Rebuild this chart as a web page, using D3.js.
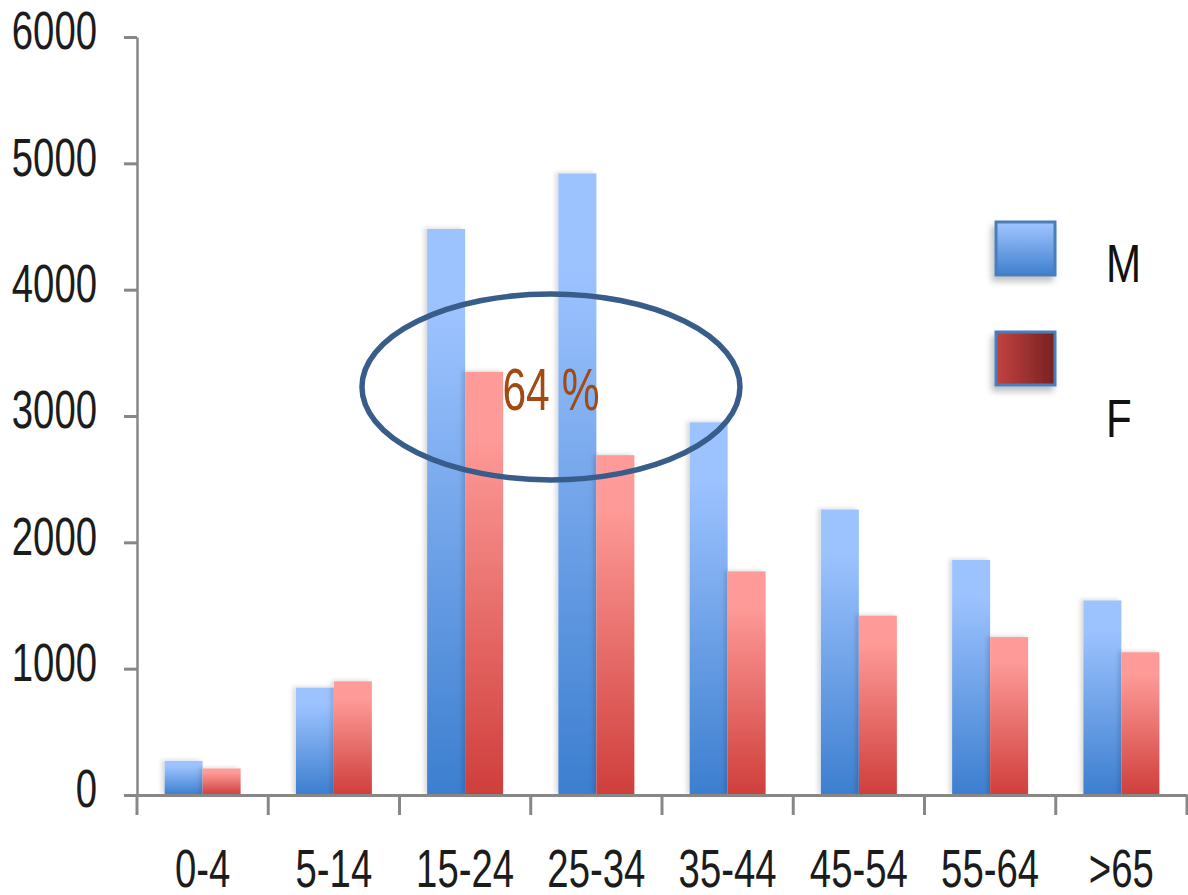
<!DOCTYPE html>
<html>
<head>
<meta charset="utf-8">
<script src="https://cdn.jsdelivr.net/npm/d3@7"></script>
<style>
  html, body { margin: 0; padding: 0; background: #fff; }
  svg { display: block; }
  text { font-family: "Liberation Sans", Arial, sans-serif; fill: #1c1c1c; }
</style>
</head>
<body>
<svg id="chart" width="1188" height="895"></svg>
<script>
// Cases by age group and sex
const categories = ["0-4", "5-14", "15-24", "25-34", "35-44", "45-54", "55-64", ">65"];
const male   = [270, 850, 4480, 4920, 2950, 2260, 1860, 1540];
const female = [210, 900, 3350, 2690, 1770, 1420, 1250, 1130];
const yTicks = [0, 1000, 2000, 3000, 4000, 5000, 6000];
const seriesNames = ["M", "F"];
const note = "64 %";

const svg = d3.select("#chart");
const squeeze = 0.71; // narrow the glyphs horizontally

const x = d3.scaleBand().domain(categories).range([137, 1187])
  .paddingInner(0.421).paddingOuter(0.2105);
const xs = d3.scaleBand().domain(seriesNames).range([0, x.bandwidth()]);
const y = d3.scaleLinear().domain([0, 6000]).range([795, 37]);

const defs = svg.append("defs");
const vGrad = (id, top, bottom, from) => {
  const g = defs.append("linearGradient").attr("id", id)
    .attr("x1", 0).attr("y1", 0).attr("x2", 0).attr("y2", 1);
  g.append("stop").attr("offset", from).attr("stop-color", top);
  g.append("stop").attr("offset", 1).attr("stop-color", bottom);
};
vGrad("gM", "#9dc3ff", "#3c7ecf", 0.15);
vGrad("gF", "#fe9b98", "#cf3e3b", 0.15);
vGrad("gMleg", "#a2c6ff", "#3f7fcf", 0);
const hg = defs.append("linearGradient").attr("id", "gFleg")
  .attr("x1", 0).attr("y1", 0).attr("x2", 1).attr("y2", 0);
hg.append("stop").attr("offset", 0).attr("stop-color", "#c4413f");
hg.append("stop").attr("offset", 1).attr("stop-color", "#772222");

const sh = defs.append("filter").attr("id", "barShadow")
  .attr("x", "-30%").attr("y", "-10%").attr("width", "160%").attr("height", "120%");
sh.append("feDropShadow").attr("dx", -3).attr("dy", -1).attr("stdDeviation", 2.2)
  .attr("flood-color", "#000").attr("flood-opacity", 0.14);
const lsh = defs.append("filter").attr("id", "legShadow")
  .attr("x", "-30%").attr("y", "-30%").attr("width", "160%").attr("height", "170%");
lsh.append("feDropShadow").attr("dx", -3).attr("dy", 5).attr("stdDeviation", 3)
  .attr("flood-color", "#000").attr("flood-opacity", 0.25);

// Bars
const rows = categories.map((c, i) => ({ c, M: male[i], F: female[i] }));
const groups = svg.append("g").selectAll("g").data(rows).join("g")
  .attr("transform", d => `translate(${x(d.c)},0)`);
groups.selectAll("rect").data(d => seriesNames.map(k => ({ k, v: d[k] }))).join("rect")
  .attr("x", d => xs(d.k))
  .attr("y", d => y(d.v))
  .attr("width", xs.bandwidth())
  .attr("height", d => y(0) - y(d.v))
  .attr("fill", d => `url(#g${d.k})`)
  .attr("filter", "url(#barShadow)");

// Y axis
const yAxis = svg.append("g").attr("transform", "translate(137,0)")
  .call(d3.axisLeft(y).tickValues(yTicks).tickSize(13).tickSizeOuter(0).tickFormat(d3.format("d")));
yAxis.select(".domain").attr("stroke", "#878787").attr("stroke-width", 2.5);
yAxis.selectAll(".tick line").attr("stroke", "#878787").attr("stroke-width", 3);
yAxis.selectAll(".tick text")
  .attr("x", -40 / squeeze).attr("dy", "0.22em")
  .attr("transform", `scale(${squeeze},1)`)
  .style("font-size", "54px").style("fill", "#1c1c1c");

// X axis: labels under band centres, ticks on band boundaries
const xAxis = svg.append("g").attr("transform", `translate(0,${y(0)})`)
  .call(d3.axisBottom(x).tickSize(0).tickSizeOuter(0));
xAxis.select(".domain").attr("stroke", "#878787").attr("stroke-width", 3);
xAxis.selectAll(".tick text")
  .attr("y", 0).attr("dy", 0)
  .attr("transform", `translate(0,92) scale(${squeeze},1)`)
  .style("font-size", "54px").style("fill", "#1c1c1c");
const bounds = d3.range(categories.length + 1).map(i => x.range()[0] + i * x.step());
xAxis.selectAll(".bound").data(bounds).join("line").attr("class", "bound")
  .attr("x1", d => d).attr("x2", d => d).attr("y1", 0).attr("y2", 20)
  .attr("stroke", "#878787").attr("stroke-width", 3);

// Highlight around the 15-24 / 25-34 groups
const cx = x.range()[0] + x.step() * 3.154;
svg.append("ellipse")
  .attr("cx", cx).attr("cy", y(3230))
  .attr("rx", x.step() * 1.44).attr("ry", y(0) - y(736))
  .attr("fill", "none").attr("stroke", "#385d8a").attr("stroke-width", 5.5);
svg.append("text")
  .attr("transform", `translate(${cx},410) scale(${squeeze},1)`)
  .attr("text-anchor", "middle")
  .style("font-size", "60px").style("fill", "#a14b12")
  .text(note);

// Legend
const leg = svg.append("g");
const legItems = [
  { k: "M", fill: "url(#gMleg)", by: 222, ty: 282 },
  { k: "F", fill: "url(#gFleg)", by: 332, ty: 437 }
];
leg.selectAll("rect").data(legItems).join("rect")
  .attr("x", 996).attr("y", d => d.by).attr("width", 59).attr("height", 53)
  .attr("fill", d => d.fill).attr("stroke", "#4a7ebb").attr("stroke-width", 3)
  .attr("filter", "url(#legShadow)");
leg.selectAll("text").data(legItems).join("text")
  .attr("transform", d => `translate(1106,${d.ty}) scale(0.78,1)`)
  .style("font-size", "54px").style("fill", "#111")
  .text(d => d.k);
</script>
</body>
</html>
